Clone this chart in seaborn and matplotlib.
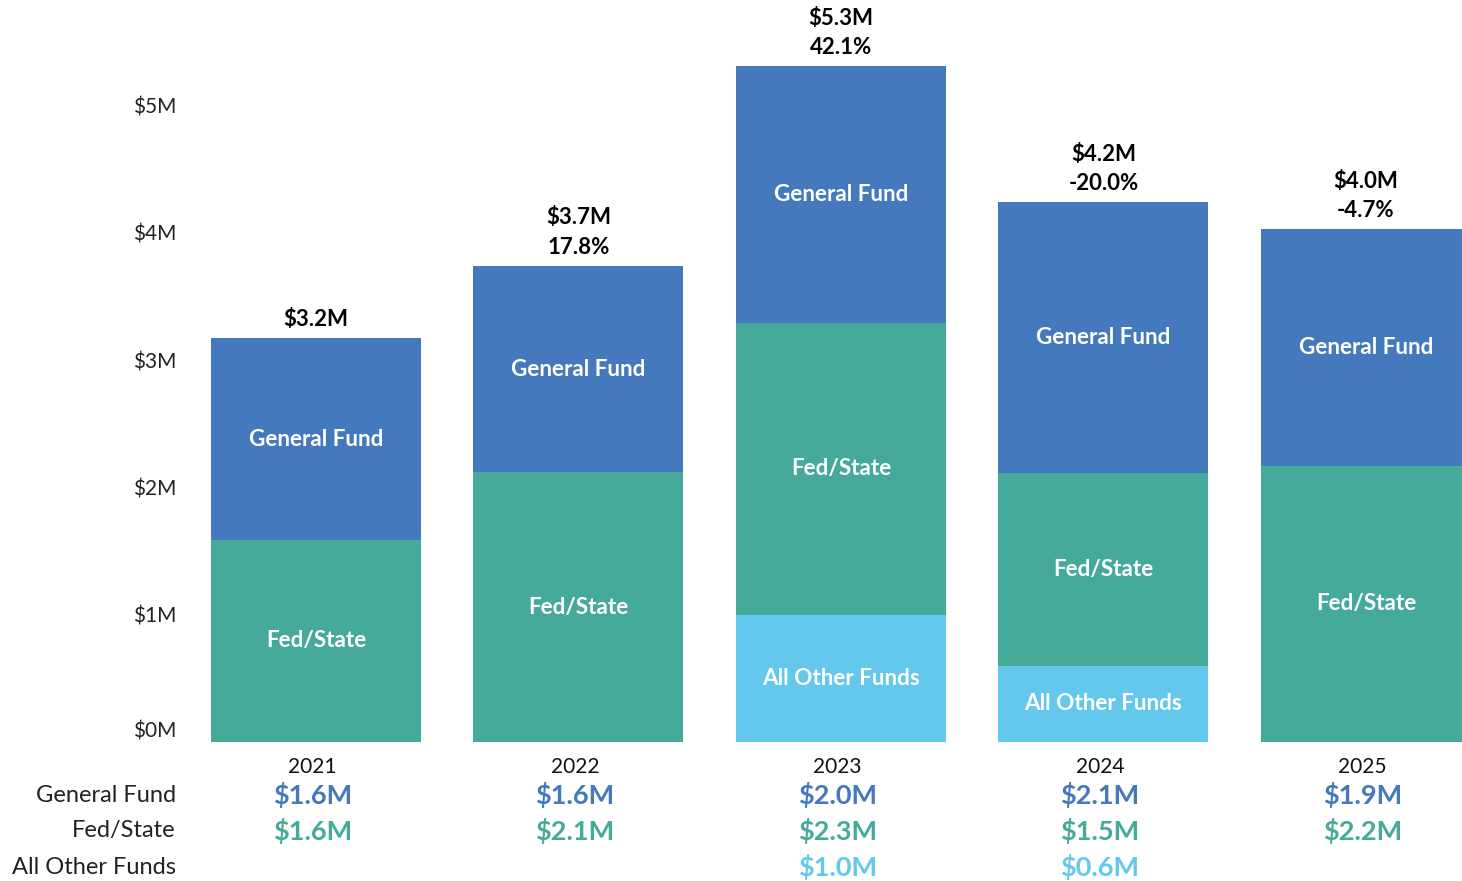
import numpy as np
import pandas as pd
import matplotlib.pyplot as plt
import matplotlib.transforms as mtransforms
import seaborn as sns

sns.set_theme(style="white")
plt.rcParams['font.family'] = ['Lato', 'DejaVu Sans']

# data ($M)
years = ["2021", "2022", "2023", "2024", "2025"]
general_fund = [1.58, 1.62, 2.02, 2.13, 1.86]
fed_state = [1.59, 2.12, 2.29, 1.51, 2.17]
other_funds = [0.0, 0.0, 1.0, 0.60, 0.0]
pct_change = [None, "17.8%", "42.1%", "-20.0%", "-4.7%"]

c_gf = "#4479BD"
c_fs = "#45AA9A"
c_other = "#63C8EB"

df = pd.DataFrame({"Year": years, "General Fund": general_fund,
                   "Fed/State": fed_state, "All Other Funds": other_funds})
df["Total"] = df["General Fund"] + df["Fed/State"] + df["All Other Funds"]
df["FS_top"] = df["Fed/State"] + df["All Other Funds"]

fig = plt.figure(figsize=(14.62, 8.81), dpi=100)
ax = fig.add_axes([190 / 1462, 139 / 881, 1 - 190 / 1462, 802 / 881])

# stacked bars by overlaying cumulative heights
sns.barplot(data=df, x="Year", y="Total", color=c_gf, saturation=1, width=0.8, linewidth=0, ax=ax)
sns.barplot(data=df, x="Year", y="FS_top", color=c_fs, saturation=1, width=0.8, linewidth=0, ax=ax)
sns.barplot(data=df, x="Year", y="All Other Funds", color=c_other, saturation=1, width=0.8, linewidth=0, ax=ax)

ax.set_xlim(-0.48, 4.366)
ax.set_ylim(0, 6.3)
ax.set_yticks(range(0, 7))
ax.set_yticklabels([f"${i}M" for i in range(0, 7)], fontsize=15, color="#222222")
ax.tick_params(axis="y", pad=10, length=0)
ax.tick_params(axis="x", pad=11, length=0, labelsize=15, labelcolor="#111111")
ax.set_xlabel("")
ax.set_ylabel("")
sns.despine(ax=ax, left=True, bottom=True)

# lift the $0M label a bit like the original
lab0 = ax.get_yticklabels()[0]
lab0.set_transform(lab0.get_transform() + mtransforms.ScaledTranslation(0, 0.13, fig.dpi_scale_trans))
# year labels sit slightly left of bar centres
for lab in ax.get_xticklabels():
    lab.set_transform(lab.get_transform() + mtransforms.ScaledTranslation(-0.035, 0, fig.dpi_scale_trans))

# labels inside the segments
seg_font = dict(color="white", fontsize=16.2, fontweight="bold", ha="center", va="center")
for i, row in df.iterrows():
    o, f, g = row["All Other Funds"], row["Fed/State"], row["General Fund"]
    if o > 0:
        ax.text(i, o / 2, "All Other Funds", **seg_font)
    ax.text(i, o + f / 2, "Fed/State", **seg_font)
    ax.text(i, o + f + g / 2, "General Fund", **seg_font)

    # totals and change above bars
    tot = row["Total"]
    top_font = dict(ha="center", va="center", fontsize=16, fontweight="bold", color="black",
                    textcoords="offset points")
    if pct_change[i] is None:
        ax.annotate(f"${tot:.1f}M", (i, tot), xytext=(0, 13.5), **top_font)
    else:
        ax.annotate(pct_change[i], (i, tot), xytext=(0, 13.5), **top_font)
        ax.annotate(f"${tot:.1f}M", (i, tot), xytext=(0, 34.5), **top_font)

# table below the chart
trans = mtransforms.blended_transform_factory(ax.transData, fig.transFigure)
rows = [("General Fund", general_fund, c_gf, 1 - 795 / 881),
        ("Fed/State", fed_state, c_fs, 1 - 831 / 881),
        ("All Other Funds", other_funds, c_other, 1 - 867 / 881)]
for name, vals, col, yf in rows:
    fig.text(176 / 1462, yf, name, ha="right", va="center", fontsize=17, color="#222222")
    for i, v in enumerate(vals):
        if v > 0:
            ax.text(i - 0.014, yf, f"${v:.1f}M", transform=trans, ha="center", va="center",
                    fontsize=19.5, fontweight="bold", color=col, clip_on=False)

fig.savefig("out.png", dpi=100)
